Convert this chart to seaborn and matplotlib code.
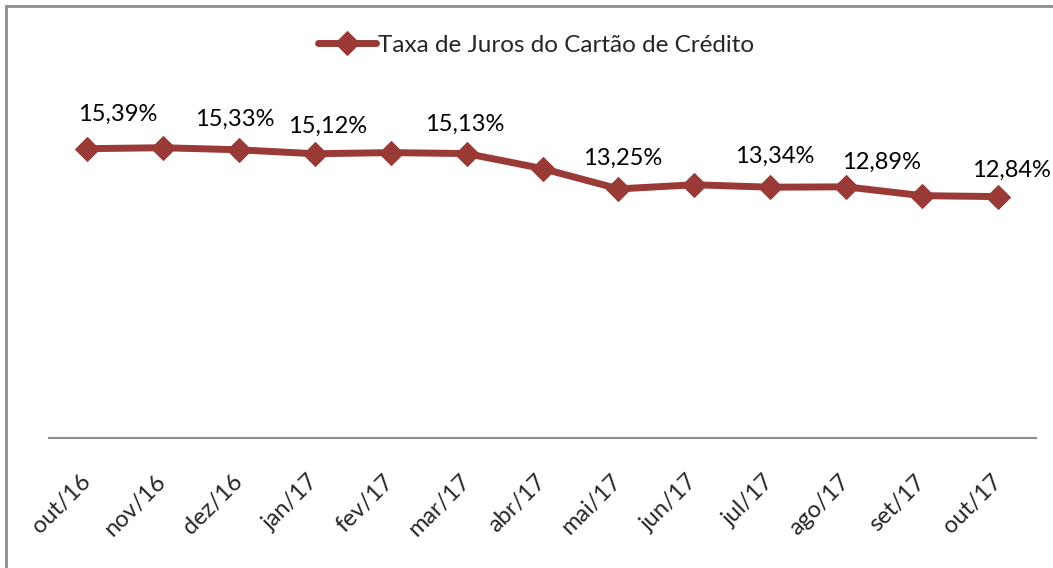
import matplotlib
matplotlib.use('Agg')
import matplotlib.pyplot as plt
import matplotlib.patches as mpatches
import seaborn as sns
import pandas as pd

# dados
meses = ['out/16', 'nov/16', 'dez/16', 'jan/17', 'fev/17', 'mar/17', 'abr/17',
         'mai/17', 'jun/17', 'jul/17', 'ago/17', 'set/17', 'out/17']
taxa = [15.39, 15.44, 15.33, 15.12, 15.18, 15.13, 14.33,
        13.25, 13.47, 13.34, 13.36, 12.89, 12.84]
rotulos = ['15,39%', None, '15,33%', '15,12%', None, '15,13%', None,
           '13,25%', None, '13,34%', None, '12,89%', '12,84%']
serie = 'Taxa de Juros do Cartão de Crédito'

# deslocamento dos rótulos (pontos)
desloc = [(22, 25), None, (-3, 22), (9, 20), None, (-1, 21), None,
          (3, 22), None, (3, 22), None, (-29, 24), (10, 19)]

sns.set_style('white')
plt.rcParams['font.family'] = ['Lato', 'DejaVu Sans']

cor = '#993A37'
df = pd.DataFrame({'mes': meses, 'taxa': taxa, 'serie': serie})

fig = plt.figure(figsize=(10.53, 5.68), dpi=100)
ax = fig.add_axes([49 / 1053, 1 - 438 / 568, 987 / 1053, 376 / 568])

sns.lineplot(data=df, x='mes', y='taxa', sort=False, color=cor, linewidth=5,
             marker='D', markersize=12, markeredgecolor=cor, label=serie, ax=ax)

ax.set_xlim(-0.5, len(meses) - 0.5)
ax.set_ylim(0, 20)
ax.set_xlabel('')
ax.set_ylabel('')
ax.set_yticks([])
for s in ['top', 'left', 'right']:
    ax.spines[s].set_visible(False)
ax.spines['bottom'].set_color('#8C8C8C')
ax.spines['bottom'].set_linewidth(1.5)

ax.set_xticks(range(len(meses)))
ax.set_xticklabels(meses, rotation=45, ha='right', va='center',
                   rotation_mode='anchor', fontsize=17)
ax.tick_params(axis='x', length=0, pad=29)

for i, (r, d) in enumerate(zip(rotulos, desloc)):
    if r is None:
        continue
    ax.annotate(r, (i, taxa[i]), xytext=d, textcoords='offset points',
                ha='center', va='center', fontsize=17, color='black')

leg = ax.legend(loc='center', bbox_to_anchor=(536 / 1053, 1 - 45 / 568),
                bbox_transform=fig.transFigure, frameon=False, fontsize=17.5,
                handlelength=2.4, handletextpad=0.1)

# moldura do gráfico
fig.patches.append(mpatches.Rectangle((6 / 1053, -0.1), 1.2, 1 - 6 / 568 + 0.1,
                                      transform=fig.transFigure, fill=False,
                                      edgecolor='#8C8C8C', linewidth=2))

fig.savefig('out.png', dpi=100)
